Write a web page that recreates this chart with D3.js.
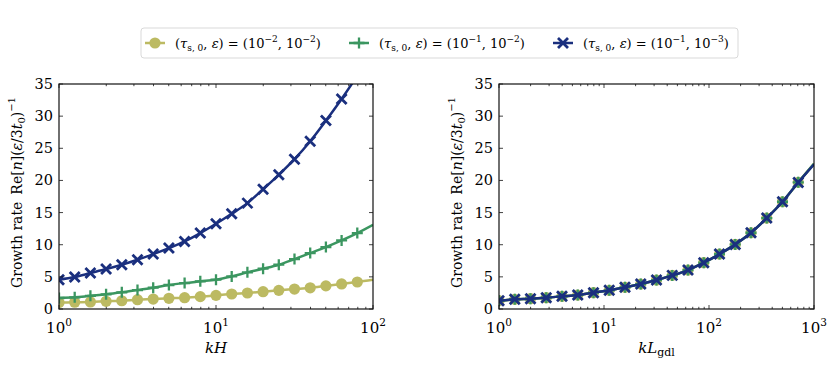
<!DOCTYPE html>
<html>
<head>
<meta charset="utf-8">
<script src="https://cdn.jsdelivr.net/npm/d3@7"></script>
<style>
  body { margin: 0; background: #fff; }
  text { font-family: "DejaVu Serif", "Liberation Serif", serif; }
</style>
</head>
<body>
<div id="chart"></div>
<script>
// left panel: x = kH, markers every 0.1 decade
var kH = [1, 1.259, 1.585, 1.995, 2.512, 3.162, 3.981, 5.012, 6.31, 7.943, 10, 12.59, 15.85, 19.95, 25.12, 31.62, 39.81, 50.12, 63.1, 79.43, 100]
var leftOlive = [1.0, 1.05, 1.1, 1.2, 1.28, 1.45, 1.55, 1.66, 1.76, 1.92, 2.12, 2.33, 2.49, 2.69, 2.9, 3.1, 3.3, 3.6, 3.9, 4.2, 4.55]
var leftGreen = [1.71, 1.81, 2.05, 2.28, 2.59, 2.95, 3.31, 3.73, 4.04, 4.3, 4.56, 5.07, 5.7, 6.27, 6.89, 7.77, 8.7, 9.63, 10.67, 11.81, 13.1]
var leftBlue = [4.56, 4.97, 5.59, 6.21, 6.89, 7.66, 8.54, 9.48, 10.51, 11.81, 13.26, 14.81, 16.47, 18.64, 20.87, 23.3, 26.1, 29.31, 32.68, 36.3, 40.2]

// right panel: x = kL_gdl, markers every 0.15 decade
var kL = [1, 1.413, 1.995, 2.818, 3.981, 5.623, 7.943, 11.22, 15.85, 22.39, 31.62, 44.67, 63.1, 89.13, 125.9, 177.8, 251.2, 354.8, 501.2, 707.9, 1000]
var rightOlive = [1.3, 1.5, 1.6, 1.76, 1.97, 2.17, 2.54, 2.9, 3.37, 3.88, 4.5, 5.23, 6.06, 7.2, 8.54, 10.05, 11.86, 14.14, 16.68, 19.7, 22.6]
var rightGreen = [1.3, 1.5, 1.6, 1.76, 1.97, 2.17, 2.54, 2.9, 3.37, 3.88, 4.5, 5.23, 6.06, 7.2, 8.54, 10.05, 11.86, 14.14, 16.68, 19.7, 22.6]
var rightBlue = [1.29, 1.5, 1.6, 1.76, 1.97, 2.17, 2.54, 2.9, 3.37, 3.88, 4.5, 5.23, 6.06, 7.2, 8.54, 10.05, 11.86, 14.14, 16.68, 19.68, 22.5]

var yTicks = [0, 5, 10, 15, 20, 25, 30, 35]
var legendLabels = [["\u22122", "\u22122"], ["\u22121", "\u22122"], ["\u22121", "\u22123"]]
var colors = ["#bcba62", "#3b9660", "#1a2f7e"]
var shapes = ["circle", "plus", "cross"]

var width = 830, height = 365

const svg = d3.select("#chart")
    .append("svg")
    .attr("width", width)
    .attr("height", height)

function marker(sel, shape, color) {
    if (shape == "circle") {
        sel.append("circle").attr("r", 5.6).attr("fill", color)
    } else if (shape == "plus") {
        sel.append("path").attr("d", "M-5.5,0H5.5M0,-5.5V5.5")
            .attr("stroke", color).attr("stroke-width", 2.3)
    } else {
        sel.append("path").attr("d", "M-5,-5L5,5M-5,5L5,-5")
            .attr("stroke", color).attr("stroke-width", 2.8)
    }
}

function tenTo(sel, e) {
    sel.append("tspan").text("10")
    sel.append("tspan").attr("dy", -7).attr("font-size", 10.5).text(e)
}

function panel(id, left, right, xs, series, xMax, xLabel) {
    var top = 84, bottom = 309
    var x = d3.scaleLog().domain([1, xMax]).range([left, right])
    var y = d3.scaleLinear().domain([0, 35]).range([bottom, top])
    var g = svg.append("g")

    g.append("clipPath").attr("id", id)
        .append("rect").attr("x", left).attr("y", top)
        .attr("width", right - left).attr("height", bottom - top)

    var plot = g.append("g").attr("clip-path", `url(#${id})`)
    var line = d3.line()
        .x((d, i) => x(xs[i]))
        .y(d => y(d))
        .curve(d3.curveMonotoneX)

    series.forEach(function (vals, s) {
        plot.append("path")
            .attr("d", line(vals))
            .attr("fill", "none")
            .attr("stroke", colors[s])
            .attr("stroke-width", 2.5)
        // markers on all but the end point
        vals.slice(0, -1).forEach(function (v, i) {
            var m = plot.append("g").attr("transform", `translate(${x(xs[i])},${y(v)})`)
            marker(m, shapes[s], colors[s])
        })
    })

    // frame
    g.append("rect").attr("x", left).attr("y", top)
        .attr("width", right - left).attr("height", bottom - top)
        .attr("fill", "none").attr("stroke", "#111").attr("stroke-width", 1.2)

    // log ticks, inward on bottom and top
    var decades = Math.round(Math.log10(xMax))
    for (var d = 0; d <= decades; d++) {
        for (var m = 1; m <= 9; m++) {
            var v = m * Math.pow(10, d)
            if (v > xMax) break
            var len = m == 1 ? 4 : 2.2
            g.append("line").attr("x1", x(v)).attr("x2", x(v))
                .attr("y1", bottom).attr("y2", bottom - len)
                .attr("stroke", "#111").attr("stroke-width", 0.8)
            g.append("line").attr("x1", x(v)).attr("x2", x(v))
                .attr("y1", top).attr("y2", top + len)
                .attr("stroke", "#111").attr("stroke-width", 0.8)
        }
        var t = g.append("text").attr("x", x(Math.pow(10, d)))
            .attr("y", bottom + 24).attr("text-anchor", "middle")
            .attr("font-size", 15)
        tenTo(t, String(d))
    }

    yTicks.forEach(function (v) {
        g.append("line").attr("x1", left).attr("x2", left + 4)
            .attr("y1", y(v)).attr("y2", y(v))
            .attr("stroke", "#111").attr("stroke-width", 0.8)
        g.append("line").attr("x1", right).attr("x2", right - 4)
            .attr("y1", y(v)).attr("y2", y(v))
            .attr("stroke", "#111").attr("stroke-width", 0.8)
        g.append("text").attr("x", left - 6).attr("y", y(v) + 5)
            .attr("text-anchor", "end").attr("font-size", 14.5).text(v)
    })

    // y label
    var yl = g.append("text")
        .attr("transform", `translate(${left - 37},${(top + bottom) / 2 - 4}) rotate(-90)`)
        .attr("text-anchor", "middle").attr("font-size", 14)
    yl.append("tspan").text("Growth rate\u2002Re[")
    yl.append("tspan").attr("font-style", "italic").text("n")
    yl.append("tspan").text("](")
    yl.append("tspan").attr("font-style", "italic").text("\u03b5")
    yl.append("tspan").text("/3")
    yl.append("tspan").attr("font-style", "italic").text("t")
    yl.append("tspan").attr("dy", 3).attr("font-size", 10).text("0")
    yl.append("tspan").attr("dy", -3).text(")")
    yl.append("tspan").attr("dy", -7).attr("font-size", 10).text("\u22121")

    // x label
    var xl = g.append("text").attr("x", (left + right) / 2).attr("y", bottom + 44)
        .attr("text-anchor", "middle").attr("font-size", 15)
    xl.append("tspan").attr("font-style", "italic").text(xLabel[0])
    if (xLabel[1]) xl.append("tspan").attr("dy", 3).attr("font-size", 11).text(xLabel[1])
}

panel("clipL", 59, 373, kH, [leftOlive, leftGreen, leftBlue], 100, ["kH"])
panel("clipR", 499, 814, kL, [rightOlive, rightGreen, rightBlue], 1000, ["kL", "gdl"])

// legend
var lg = svg.append("g")
lg.append("rect").attr("x", 141).attr("y", 28).attr("width", 597).attr("height", 30)
    .attr("rx", 3).attr("fill", "#fff").attr("stroke", "#d9d9d9").attr("stroke-width", 1)

var entryX = [145, 349, 553]
legendLabels.forEach(function (lab, i) {
    var ex = entryX[i], cy = 43
    lg.append("line").attr("x1", ex).attr("x2", ex + 20).attr("y1", cy).attr("y2", cy)
        .attr("stroke", colors[i]).attr("stroke-width", 2.5)
    marker(lg.append("g").attr("transform", `translate(${ex + 10},${cy})`), shapes[i], colors[i])
    var t = lg.append("text").attr("x", ex + 30).attr("y", cy + 5).attr("font-size", 13)
    t.append("tspan").text("(")
    t.append("tspan").attr("font-style", "italic").text("\u03c4")
    t.append("tspan").attr("dy", 3).attr("font-size", 9).text("s, 0")
    t.append("tspan").attr("dy", -3).text(", ")
    t.append("tspan").attr("font-style", "italic").text("\u03b5")
    t.append("tspan").text(") = (10")
    t.append("tspan").attr("dy", -6).attr("font-size", 9).text(lab[0])
    t.append("tspan").attr("dy", 6).text(", 10")
    t.append("tspan").attr("dy", -6).attr("font-size", 9).text(lab[1])
    t.append("tspan").attr("dy", 6).text(")")
})
</script>
</body>
</html>
